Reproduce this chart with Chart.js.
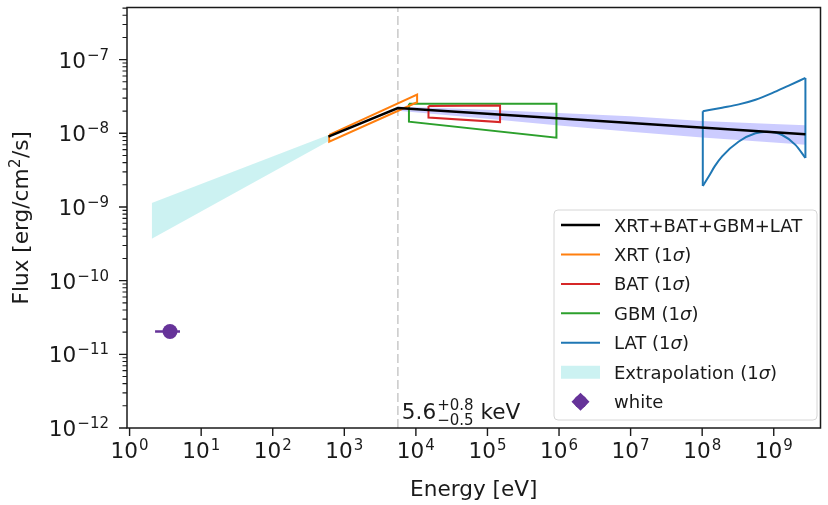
<!DOCTYPE html>
<html lang="en">
<head>
  <meta charset="UTF-8">
  <title>Broadband spectrum</title>
  <script src="https://cdn.jsdelivr.net/npm/chart.js"></script>
  <style>
    html, body { margin: 0; padding: 0; background: #fff; }
    canvas { display: block; }
  </style>
</head>
<body>
  <canvas id="sed" width="828" height="505"></canvas>

  <script>
    // energies in eV, fluxes in erg/cm2/s

    // joint broken power-law fit
    const fitEnergy = [600, 5600, 2.77e9];
    const fitFlux = [9.0e-9, 2.2e-8, 9.7e-9];

    // 1 sigma band of the joint fit above the break
    const fitBandEnergy = [5600, 1e5, 1e6, 1e7, 1e8, 1e9, 2.77e9];
    const fitBandUpper = [2.32e-8, 2.08e-8, 1.89e-8, 1.70e-8, 1.47e-8, 1.34e-8, 1.29e-8];
    const fitBandLower = [2.03e-8, 1.58e-8, 1.28e-8, 1.05e-8, 8.8e-9, 7.5e-9, 7.0e-9];

    // extrapolation of the low-energy slope down to the optical
    const extrapEnergy = [2.04, 600];
    const extrapUpper = [1.13e-9, 9.5e-9];
    const extrapLower = [3.7e-10, 7.8e-9];

    // instrument bowties, closed outlines
    const xrtEnergy = [615, 1.04e4, 1.04e4, 615, 615];
    const xrtFlux = [9.5e-9, 3.36e-8, 2.64e-8, 7.7e-9, 9.5e-9];

    const batEnergy = [1.5e4, 1.5e5, 1.5e5, 1.5e4, 1.5e4];
    const batFlux = [2.35e-8, 2.38e-8, 1.42e-8, 1.64e-8, 2.35e-8];

    const gbmEnergy = [8e3, 9.2e5, 9.2e5, 8e3, 8e3];
    const gbmFlux = [2.52e-8, 2.52e-8, 8.7e-9, 1.44e-8, 2.52e-8];

    const latUpperEnergy = [1.02e8, 1.9e8, 3.25e8, 5.56e8, 9.48e8, 1.62e9, 2.77e9];
    const latUpperFlux = [1.99e-8, 2.23e-8, 2.47e-8, 2.86e-8, 3.51e-8, 4.45e-8, 5.64e-8];
    const latLowerEnergy = [1.02e8, 1.24e8, 1.51e8, 1.9e8, 3.25e8, 5.56e8, 8.07e8, 1.31e9, 2.01e9, 2.77e9];
    const latLowerFlux = [1.93e-9, 2.62e-9, 3.61e-9, 4.87e-9, 7.74e-9, 1.0e-8, 1.05e-8, 9.49e-9, 6.97e-9, 4.62e-9];

    // optical "white" filter point
    const whiteEnergy = [3.67];
    const whiteFlux = [2.04e-11];
    const whiteEnergyLow = [2.27];
    const whiteEnergyHigh = [5.06];

    // break energy
    const breakEnergy = 5600;

    const xMin = 0.92, xMax = 4.5e9;
    const yMin = 1e-12, yMax = 5.1e-7;

    const xTickExps = [0, 1, 2, 3, 4, 5, 6, 7, 8, 9];
    const yTickExps = [-12, -11, -10, -9, -8, -7];

    const legendLabels = ['XRT+BAT+GBM+LAT', 'XRT (1σ)', 'BAT (1σ)', 'GBM (1σ)', 'LAT (1σ)', 'Extrapolation (1σ)', 'white'];

    const C_FIT = '#000000';
    const C_XRT = '#ff7f0e';
    const C_BAT = '#d62728';
    const C_GBM = '#2ca02c';
    const C_LAT = '#1f77b4';
    const C_EXTRAP = 'rgba(0, 190, 190, 0.2)';
    const C_BAND = 'rgba(0, 0, 255, 0.2)';
    const C_WHITE = '#663399';

    const FONT = '"DejaVu Sans", sans-serif';
    const LW = 2.0;

    function pts(xs, ys) {
      return xs.map((x, i) => ({ x: x, y: ys[i] }));
    }

    function outline(label, xs, ys, color, order) {
      return {
        label: label,
        data: pts(xs, ys),
        borderColor: color,
        borderWidth: LW,
        pointRadius: 0,
        fill: false,
        order: order
      };
    }

    const latEdges = [
      { x: latLowerEnergy[0], y: latLowerFlux[0] },
      { x: latUpperEnergy[0], y: latUpperFlux[0] },
      { x: latUpperEnergy[0], y: null },
      { x: latUpperEnergy[latUpperEnergy.length - 1], y: latUpperFlux[latUpperFlux.length - 1] },
      { x: latLowerEnergy[latLowerEnergy.length - 1], y: latLowerFlux[latLowerFlux.length - 1] }
    ];

    const datasets = [
      // 0,1: extrapolation band
      { data: pts(extrapEnergy, extrapUpper), borderColor: 'transparent', pointRadius: 0, fill: false, order: 9 },
      { data: pts(extrapEnergy, extrapLower), borderColor: 'transparent', pointRadius: 0, fill: '-1', backgroundColor: C_EXTRAP, order: 8 },
      // 2,3: joint fit band
      { data: pts(fitBandEnergy, fitBandUpper), borderColor: 'transparent', pointRadius: 0, fill: false, order: 9 },
      { data: pts(fitBandEnergy, fitBandLower), borderColor: 'transparent', pointRadius: 0, fill: '-1', backgroundColor: C_BAND, order: 7 },
      // break marker
      {
        data: [{ x: breakEnergy, y: yMin }, { x: breakEnergy, y: yMax }],
        borderColor: '#cccccc', borderWidth: 1.6, borderDash: [9, 4], pointRadius: 0, fill: false, order: 10
      },
      outline('GBM', gbmEnergy, gbmFlux, C_GBM, 5),
      outline('BAT', batEnergy, batFlux, C_BAT, 4),
      outline('XRT', xrtEnergy, xrtFlux, C_XRT, 3),
      {
        data: pts(latUpperEnergy, latUpperFlux), borderColor: C_LAT, borderWidth: LW,
        pointRadius: 0, fill: false, cubicInterpolationMode: 'monotone', order: 2
      },
      {
        data: pts(latLowerEnergy, latLowerFlux), borderColor: C_LAT, borderWidth: LW,
        pointRadius: 0, fill: false, cubicInterpolationMode: 'monotone', order: 2
      },
      { data: latEdges, borderColor: C_LAT, borderWidth: LW, pointRadius: 0, fill: false, spanGaps: false, order: 2 },
      {
        label: 'XRT+BAT+GBM+LAT',
        data: pts(fitEnergy, fitFlux), borderColor: C_FIT, borderWidth: 2.4, pointRadius: 0, fill: false, order: 1
      },
      // white point with its energy range
      {
        data: [{ x: whiteEnergyLow[0], y: whiteFlux[0] }, { x: whiteEnergyHigh[0], y: whiteFlux[0] }],
        borderColor: C_WHITE, borderWidth: 2.5, pointRadius: 0, fill: false, order: 0
      },
      {
        data: pts(whiteEnergy, whiteFlux), showLine: false, pointRadius: 7.5, pointStyle: 'circle',
        pointBackgroundColor: C_WHITE, pointBorderColor: C_WHITE, pointBorderWidth: 0, order: 0
      }
    ];

    // draws "10" with a raised exponent; y is the baseline of "10"
    function drawPow(ctx, exp, x, y, align) {
      const e = String(exp).replace('-', '\u2212');
      ctx.font = '21.6px ' + FONT;
      const wb = ctx.measureText('10').width;
      ctx.font = '15px ' + FONT;
      const we = ctx.measureText(e).width;
      const total = wb + 1 + we;
      let x0 = x;
      if (align === 'center') x0 = x - total / 2;
      if (align === 'right') x0 = x - total;
      ctx.textAlign = 'left';
      ctx.textBaseline = 'alphabetic';
      ctx.font = '21.6px ' + FONT;
      ctx.fillText('10', x0, y);
      ctx.font = '15px ' + FONT;
      ctx.fillText(e, x0 + wb + 1, y - 8);
    }

    // text with an italic sigma in it
    function drawLegendText(ctx, text, x, y) {
      const parts = text.split('σ');
      let cx = x;
      parts.forEach((p, i) => {
        ctx.font = '18px ' + FONT;
        ctx.fillText(p, cx, y);
        cx += ctx.measureText(p).width;
        if (i < parts.length - 1) {
          ctx.font = 'italic 18px ' + FONT;
          ctx.fillText('σ', cx, y);
          cx += ctx.measureText('σ').width;
        }
      });
    }

    const decorPlugin = {
      id: 'decor',
      afterDraw(chart) {
        const ctx = chart.ctx;
        const { left, right, top, bottom } = chart.chartArea;
        const xs = chart.scales.x;
        const ys = chart.scales.y;
        ctx.save();
        ctx.fillStyle = '#1a1a1a';
        ctx.strokeStyle = '#1a1a1a';

        // ticks
        ctx.lineWidth = 1.4;
        ctx.beginPath();
        xTickExps.forEach(e => {
          const px = xs.getPixelForValue(Math.pow(10, e));
          ctx.moveTo(px, bottom);
          ctx.lineTo(px, bottom + 8);
        });
        yTickExps.forEach(e => {
          const py = ys.getPixelForValue(Math.pow(10, e));
          ctx.moveTo(left, py);
          ctx.lineTo(left - 8, py);
        });
        ctx.stroke();
        ctx.lineWidth = 1.1;
        ctx.beginPath();
        for (let e = -12; e <= -7; e++) {
          for (let m = 2; m <= 9; m++) {
            const v = m * Math.pow(10, e);
            if (v > yMax) continue;
            const py = ys.getPixelForValue(v);
            ctx.moveTo(left, py);
            ctx.lineTo(left - 4.5, py);
          }
        }
        ctx.stroke();

        // frame
        ctx.lineWidth = 1.5;
        ctx.strokeRect(left, top, right - left, bottom - top);

        // tick labels
        xTickExps.forEach(e => {
          drawPow(ctx, e, xs.getPixelForValue(Math.pow(10, e)), bottom + 30, 'center');
        });
        yTickExps.forEach(e => {
          drawPow(ctx, e, left - 18, ys.getPixelForValue(Math.pow(10, e)) + 7.9, 'right');
        });

        // axis titles
        ctx.font = '21.6px ' + FONT;
        ctx.textAlign = 'center';
        ctx.textBaseline = 'alphabetic';
        ctx.fillText('Energy [eV]', (left + right) / 2, 496);

        ctx.save();
        ctx.translate(27.5, (top + bottom) / 2);
        ctx.rotate(-Math.PI / 2);
        ctx.textAlign = 'left';
        const t1 = 'Flux [erg/cm', t2 = '2', t3 = '/s]';
        ctx.font = '21.6px ' + FONT;
        const w1 = ctx.measureText(t1).width;
        const w3 = ctx.measureText(t3).width;
        ctx.font = '15px ' + FONT;
        const w2 = ctx.measureText(t2).width;
        let cx = -(w1 + w2 + w3 + 1) / 2;
        ctx.font = '21.6px ' + FONT;
        ctx.fillText(t1, cx, 0);
        cx += w1;
        ctx.font = '15px ' + FONT;
        ctx.fillText(t2, cx + 0.5, -8);
        cx += w2 + 1;
        ctx.font = '21.6px ' + FONT;
        ctx.fillText(t3, cx, 0);
        ctx.restore();

        // break energy label
        const bx = xs.getPixelForValue(breakEnergy) + 4;
        const by = bottom - 9;
        ctx.textAlign = 'left';
        ctx.font = '21.6px ' + FONT;
        ctx.fillText('5.6', bx, by);
        let ax = bx + ctx.measureText('5.6').width + 1;
        ctx.font = '15px ' + FONT;
        ctx.fillText('+0.8', ax, by - 9);
        ctx.fillText('\u22120.5', ax, by + 6);
        ax += Math.max(ctx.measureText('+0.8').width, ctx.measureText('\u22120.5').width);
        ctx.font = '21.6px ' + FONT;
        ctx.fillText(' keV', ax, by);

        // legend
        const lx = 554, ly = 210, lw = 263, lh = 210;
        ctx.beginPath();
        ctx.roundRect(lx, ly, lw, lh, 4);
        ctx.fillStyle = 'rgba(255,255,255,0.8)';
        ctx.fill();
        ctx.strokeStyle = '#d6d6d6';
        ctx.lineWidth = 1;
        ctx.stroke();

        const handles = [
          { kind: 'line', color: C_FIT, width: 2.4 },
          { kind: 'line', color: C_XRT, width: LW },
          { kind: 'line', color: C_BAT, width: LW },
          { kind: 'line', color: C_GBM, width: LW },
          { kind: 'line', color: C_LAT, width: LW },
          { kind: 'patch', color: C_EXTRAP },
          { kind: 'marker', color: C_WHITE }
        ];
        legendLabels.forEach((label, i) => {
          const rowY = 225 + i * 29.45;
          const h = handles[i];
          if (h.kind === 'line') {
            ctx.strokeStyle = h.color;
            ctx.lineWidth = h.width;
            ctx.beginPath();
            ctx.moveTo(561, rowY);
            ctx.lineTo(600, rowY);
            ctx.stroke();
          } else if (h.kind === 'patch') {
            ctx.fillStyle = h.color;
            ctx.fillRect(561, rowY - 6.5, 39, 13);
          } else {
            ctx.fillStyle = h.color;
            ctx.beginPath();
            ctx.moveTo(580.5, rowY - 9);
            ctx.lineTo(589.5, rowY);
            ctx.lineTo(580.5, rowY + 9);
            ctx.lineTo(571.5, rowY);
            ctx.closePath();
            ctx.fill();
            ctx.beginPath();
            ctx.arc(580.5, rowY, 6.5, 0, Math.PI * 2);
            ctx.fill();
          }
          ctx.fillStyle = '#1a1a1a';
          ctx.textAlign = 'left';
          ctx.textBaseline = 'alphabetic';
          drawLegendText(ctx, label, 614, rowY + 6.5);
        });

        ctx.restore();
      }
    };

    new Chart(document.getElementById('sed').getContext('2d'), {
      type: 'line',
      data: { datasets: datasets },
      options: {
        responsive: false,
        devicePixelRatio: 1,
        animation: false,
        events: [],
        layout: { padding: { left: 127, right: 6, top: 3, bottom: 77 } },
        scales: {
          x: { type: 'logarithmic', min: xMin, max: xMax, display: false },
          y: { type: 'logarithmic', min: yMin, max: yMax, display: false }
        },
        plugins: {
          legend: { display: false },
          tooltip: { enabled: false }
        }
      },
      plugins: [decorPlugin]
    });
  </script>
</body>
</html>
